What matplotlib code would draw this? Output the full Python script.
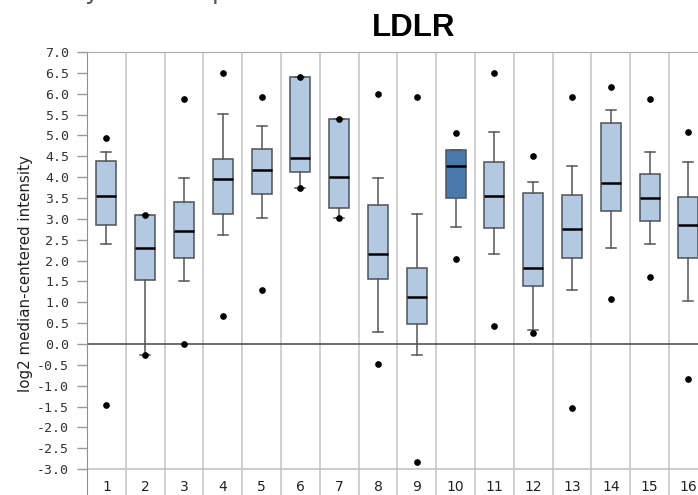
import matplotlib
matplotlib.use("Agg")
import matplotlib.pyplot as plt

# box statistics per column
groups = list(range(1, 17))
medians = [3.54, 2.29, 2.71, 3.95, 4.16, 4.47, 4.00, 2.16, 1.12, 4.27, 3.55, 1.81, 2.75, 3.85, 3.50, 2.85]
q1 = [2.85, 1.53, 2.05, 3.12, 3.59, 4.12, 3.26, 1.57, 0.47, 3.51, 2.77, 1.40, 2.05, 3.19, 2.95, 2.05]
q3 = [4.39, 3.10, 3.40, 4.43, 4.68, 6.40, 5.40, 3.33, 1.81, 4.65, 4.36, 3.61, 3.57, 5.30, 4.08, 3.53]
whislo = [2.40, -0.26, 1.51, 2.61, 3.02, 3.75, 3.02, 0.29, -0.26, 2.81, 2.16, 0.33, 1.29, 2.29, 2.40, 1.02]
whishi = [4.61, 3.10, 3.99, 5.51, 5.23, 6.40, 5.40, 3.99, 3.12, 4.65, 5.09, 3.88, 4.26, 5.60, 4.60, 4.36]
maxima = [4.95, 3.10, 5.88, 6.50, 5.91, 6.40, 5.40, 5.99, 5.91, 5.05, 6.50, 4.51, 5.91, 6.16, 5.88, 5.09]
minima = [-1.47, -0.26, 0.00, 0.68, 1.29, 3.75, 3.02, -0.47, -2.84, 2.03, 0.43, 0.27, -1.54, 1.08, 1.60, -0.84]
highlight = 10

yticks = [v / 2 for v in range(-6, 15)]

LIGHT = "#b2c9e1"
DARK = "#4a7aad"
EDGE = "#4d5259"

stats = []
for i in range(len(groups)):
    stats.append({
        "med": medians[i], "q1": q1[i], "q3": q3[i],
        "whislo": whislo[i], "whishi": whishi[i],
        "fliers": [maxima[i], minima[i]],
    })

fig = plt.figure(figsize=(6.98, 4.95), dpi=100)
ax = fig.add_axes([87 / 698, 0.0, 16 * 38.8 / 698, 443 / 495])

ax.set_xlim(0.5, 16.5)
ax.set_ylim(-3.62, 7.0)

for x in groups[:-1]:
    ax.axvline(x + 0.5, color="#c8c8c8", lw=1.2, zorder=0)
ax.axhline(-3.0, color="#c4c4c4", lw=1.2, zorder=0)
ax.axhline(0.0, color="#444444", lw=1.1, zorder=1)

parts = ax.bxp(
    stats, positions=groups, widths=0.52, patch_artist=True, manage_ticks=False,
    boxprops=dict(edgecolor=EDGE, linewidth=1.1),
    medianprops=dict(color="black", linewidth=1.8),
    whiskerprops=dict(color="#555555", linewidth=1.1),
    capprops=dict(color="#555555", linewidth=1.1),
    flierprops=dict(marker="o", markersize=3.8, markerfacecolor="black",
                    markeredgecolor="black", linestyle="none"),
    zorder=2,
)
for i, box in enumerate(parts["boxes"]):
    box.set_facecolor(DARK if groups[i] == highlight else LIGHT)

for g in groups:
    ax.text(g, -3.43, str(g), ha="center", va="center", fontsize=10,
            color="#222222", family="DejaVu Sans")

ax.set_xticks([])
ax.set_yticks(yticks)
ax.set_yticklabels([f"{v:.1f}" for v in yticks], family="DejaVu Sans Mono",
                   fontsize=9.5, color="#333333")
ax.tick_params(axis="y", length=7, width=1, color="#999999", pad=6)

for side in ["bottom", "right"]:
    ax.spines[side].set_visible(False)
ax.spines["left"].set_color("#909090")
ax.spines["top"].set_color("#aaaaaa")

fig.text(26 / 698, 1 - 274 / 495, "log2 median-centered intensity", rotation=90,
         ha="center", va="center", fontsize=10.8, color="#222222")
fig.text(413.5 / 698, 1 - 35.7 / 495, "LDLR", ha="center", va="baseline",
         fontsize=22.5, fontweight="bold", family=["Liberation Sans", "DejaVu Sans"])

# cut-off heading above the chart, only its descenders are visible
fig.text(84 / 698, 1.002, "y", ha="left", va="baseline", fontsize=18, color="#555555")
fig.text(212 / 698, 1.002, "p", ha="left", va="baseline", fontsize=18, color="#555555")

fig.savefig("out.png", dpi=100)
